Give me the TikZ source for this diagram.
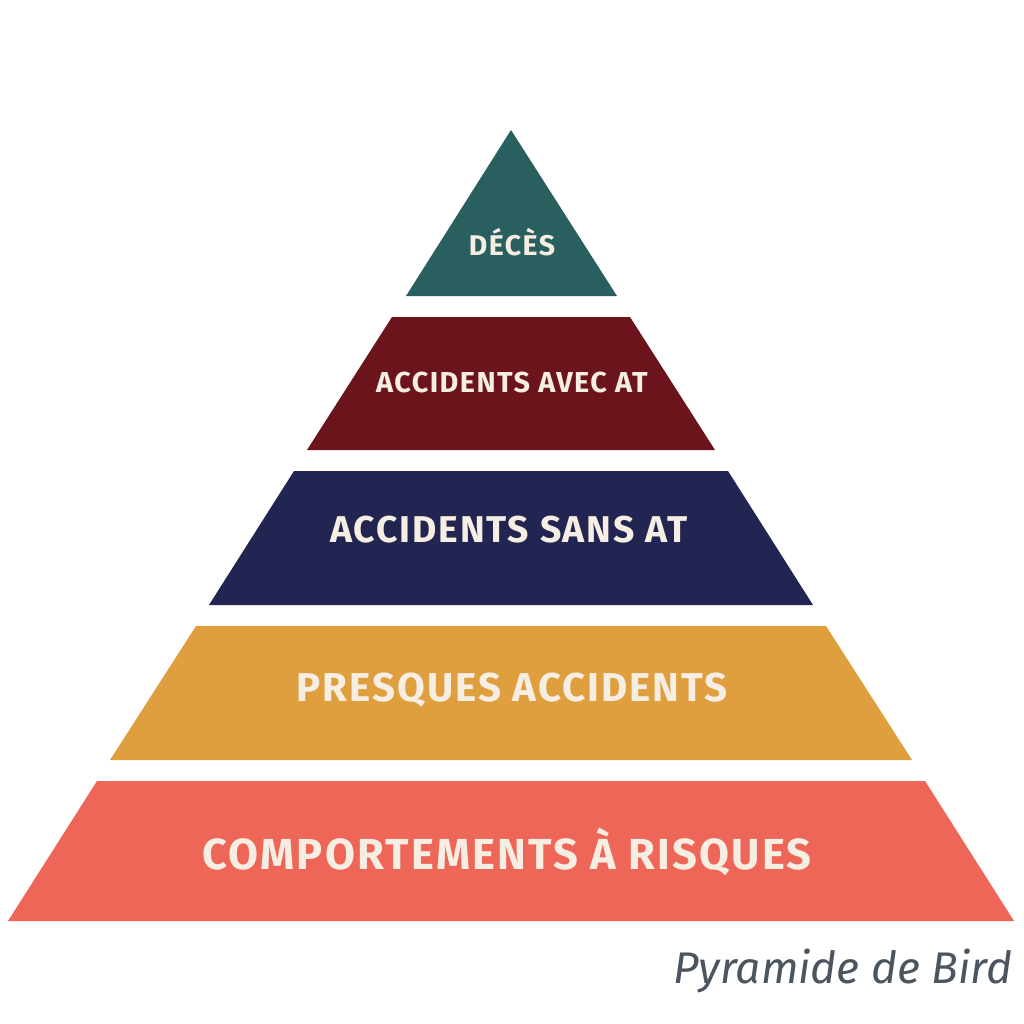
\documentclass[tikz,border=0pt]{standalone}
\usepackage{fontspec}
\setmainfont{Fira Sans}
\newfontfamily\lblfont[LetterSpace=5]{Fira Sans}
\begin{document}
\begin{tikzpicture}[x=0.01cm,y=-0.01cm,
 lbl/.style={text=txt,inner sep=0pt,anchor=center}]
\definecolor{txt}{HTML}{F6EEE2}
\definecolor{cA}{HTML}{2A5F60}
\definecolor{cB}{HTML}{6B141C}
\definecolor{cC}{HTML}{222552}
\definecolor{cD}{HTML}{E09F3E}
\definecolor{cE}{HTML}{EE6657}
\definecolor{cap}{HTML}{4A5560}
\useasboundingbox[fill=white] (0,0) rectangle (1024,1024);
\fill[cA] (511,130) -- (617,296) -- (406,296) -- cycle;
\fill[cB] (392,317) -- (630,317) -- (715,450) -- (307,450) -- cycle;
\fill[cC] (294,471) -- (728,471) -- (813,605) -- (209,605) -- cycle;
\fill[cD] (196,626) -- (826,626) -- (912,760) -- (110,760) -- cycle;
\fill[cE] (97,781) -- (925,781) -- (1014,921) -- (8,921) -- cycle;
\node[lbl,font=\lblfont\bfseries\fontsize{8.1pt}{9pt}\selectfont] (t1) at (512,242) {DÉCÈS};
\node[lbl,font=\lblfont\bfseries\fontsize{8.2pt}{10pt}\selectfont] (t2) at (512,383) {ACCIDENTS AVEC AT};
\node[lbl,font=\lblfont\bfseries\fontsize{10.6pt}{12pt}\selectfont] (t3) at (509,530) {ACCIDENTS SANS AT};
\node[lbl,font=\lblfont\bfseries\fontsize{11.45pt}{13pt}\selectfont] (t4) at (512,690) {PRESQUES ACCIDENTS};
\node[lbl,font=\lblfont\bfseries\fontsize{12.35pt}{14pt}\selectfont] (t5) at (507,852) {COMPORTEMENTS À RISQUES};
\node[text=cap,font=\itshape\fontsize{12.6pt}{14pt}\selectfont,inner sep=0pt,anchor=base east] (c) at (1013,983) {Pyramide de Bird};
\end{tikzpicture}
\end{document}
